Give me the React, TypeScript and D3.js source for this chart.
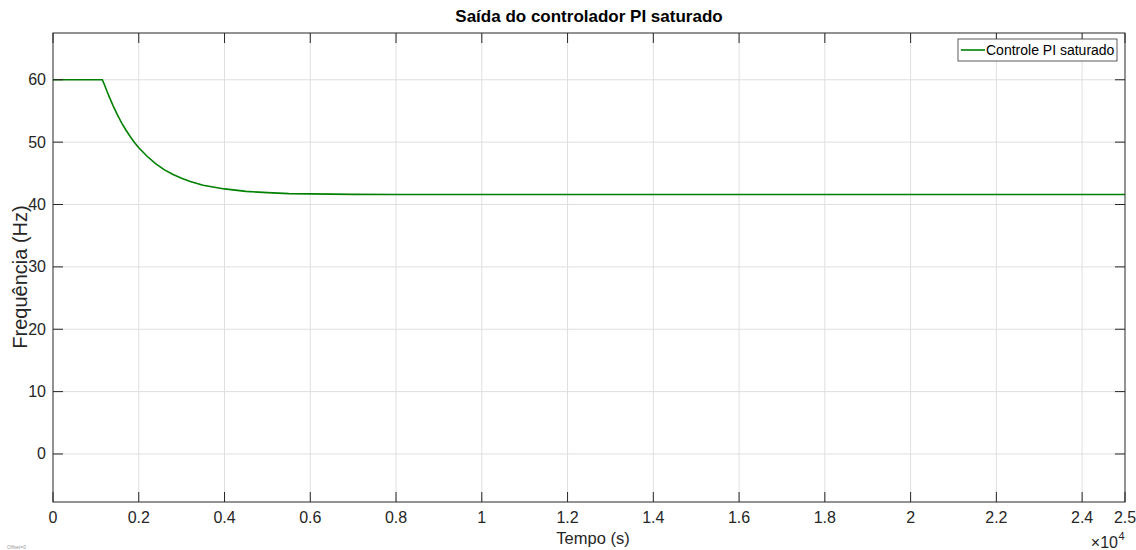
import React from "react";
import { scaleLinear, line } from "d3";

// tempo (s) and controller output (Hz)
const tempo = [0, 1150, 1200, 1300, 1400, 1500, 1600, 1700, 1800, 1900, 2000, 2200, 2400, 2600, 2800, 3000, 3200, 3500, 4000, 4500, 5000, 5500, 6000, 7000, 8000, 25000];
const saida = [60, 60, 59.2, 57.45, 55.85, 54.4, 53.1, 51.95, 50.9, 49.95, 49.1, 47.7, 46.5, 45.55, 44.8, 44.2, 43.7, 43.1, 42.5, 42.1, 41.9, 41.75, 41.7, 41.62, 41.6, 41.6];

const xTicks = [0, 2000, 4000, 6000, 8000, 10000, 12000, 14000, 16000, 18000, 20000, 22000, 24000, 25000];
const xTickLabels = ["0", "0.2", "0.4", "0.6", "0.8", "1", "1.2", "1.4", "1.6", "1.8", "2", "2.2", "2.4", "2.5"];
const yTicks = [0, 10, 20, 30, 40, 50, 60];

const W = 1136;
const H = 550;
const m = { left: 53, right: 11, top: 33, bottom: 48 };
const FONT = "'Liberation Sans', Arial, Helvetica, sans-serif";
const AX = "#262626";

export default function App() {
  const x = scaleLinear().domain([0, 25000]).range([m.left, W - m.right]);
  const y = scaleLinear().domain([-7.7, 67.5]).range([H - m.bottom, m.top]);
  const pts: [number, number][] = tempo.map((t, i) => [t, saida[i]]);
  const path = line<[number, number]>()
    .x((d) => x(d[0]))
    .y((d) => y(d[1]))(pts);

  const x0 = m.left;
  const x1 = W - m.right;
  const y0 = m.top;
  const y1 = H - m.bottom;
  const tick = 10;

  return (
    <svg
      width={W}
      height={H}
      style={{ position: "fixed", left: 0, top: 0, background: "#fff" }}
      fontFamily={FONT}
    >
      <rect x={0} y={0} width={W} height={H} fill="#fff" />

      {/* grid */}
      {xTicks.slice(1, -1).map((t) => (
        <line key={"gx" + t} x1={x(t)} x2={x(t)} y1={y0} y2={y1} stroke="#dfdfdf" strokeWidth={1} />
      ))}
      {yTicks.map((t) => (
        <line key={"gy" + t} x1={x0} x2={x1} y1={y(t)} y2={y(t)} stroke="#dfdfdf" strokeWidth={1} />
      ))}

      {/* data */}
      <path d={path ?? ""} fill="none" stroke="#008000" strokeWidth={1.6} />

      {/* box + ticks */}
      <rect x={x0} y={y0} width={x1 - x0} height={y1 - y0} fill="none" stroke={AX} strokeWidth={1} />
      {xTicks.map((t) => (
        <g key={"tx" + t}>
          <line x1={x(t)} x2={x(t)} y1={y1} y2={y1 - tick} stroke={AX} />
          <line x1={x(t)} x2={x(t)} y1={y0} y2={y0 + tick} stroke={AX} />
        </g>
      ))}
      {yTicks.map((t) => (
        <g key={"ty" + t}>
          <line x1={x0} x2={x0 + tick} y1={y(t)} y2={y(t)} stroke={AX} />
          <line x1={x1} x2={x1 - tick} y1={y(t)} y2={y(t)} stroke={AX} />
        </g>
      ))}

      {/* tick labels */}
      {xTicks.map((t, i) => (
        <text key={"lx" + t} x={x(t)} y={y1 + 21} textAnchor="middle" fontSize={16} fill={AX}>
          {xTickLabels[i]}
        </text>
      ))}
      {yTicks.map((t) => (
        <text key={"ly" + t} x={x0 - 7} y={y(t) + 5.5} textAnchor="end" fontSize={16} fill={AX}>
          {t}
        </text>
      ))}

      {/* exponent */}
      <text x={1118} y={548} textAnchor="end" fontSize={16} fill={AX}>
        ×10
      </text>
      <text x={1118.5} y={540} fontSize={11} fill={AX}>
        4
      </text>

      {/* labels */}
      <text x={589} y={22} textAnchor="middle" fontSize={17} fontWeight="bold" fill="#000">
        Saída do controlador PI saturado
      </text>
      <text x={593} y={544} textAnchor="middle" fontSize={16.5} fill={AX}>
        Tempo (s)
      </text>
      <text
        transform="translate(27,277) rotate(-90)"
        textAnchor="middle"
        fontSize={20}
        fill={AX}
      >
        Frequência (Hz)
      </text>
      <text x={7} y={549} fontSize={5} fill="#999">
        Offset=0
      </text>

      {/* legend */}
      <rect x={958} y={39} width={159} height={22} fill="#fff" stroke="#333" strokeWidth={0.8} />
      <line x1={961} x2={985} y1={50} y2={50} stroke="#008000" strokeWidth={1.6} />
      <text x={986} y={55} fontSize={14} fill="#000">
        Controle PI saturado
      </text>
    </svg>
  );
}
